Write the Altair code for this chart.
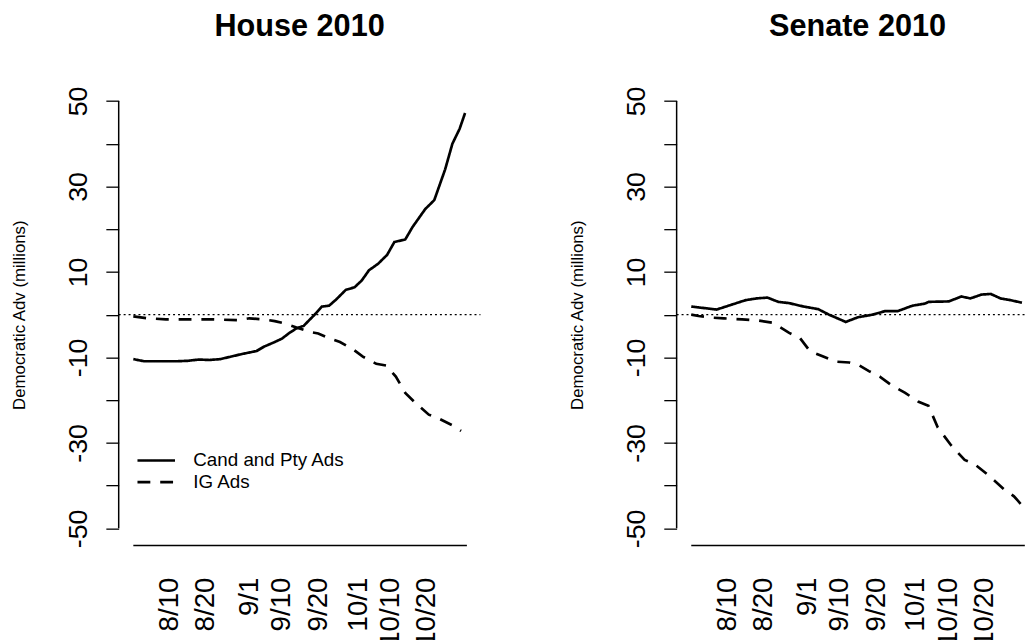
import altair as alt
import pandas as pd

# ---------------- data ----------------
# days counted from 2010-07-31
house_cand_day = [0, 3, 7, 12, 15, 18, 21, 24, 27, 30, 34, 36, 39, 41, 43, 45, 47, 50, 52, 54,
                  56, 58.6, 61, 63, 65, 67.5, 70, 72, 75, 77, 80.5, 83, 86, 88, 90, 91.5]
house_cand_val = [-10.4, -10.9, -10.9, -10.9, -10.8, -10.5, -10.6, -10.4, -9.8, -9.2, -8.5, -7.5,
                  -6.4, -5.6, -4.3, -3.2, -2.6, 0.0, 1.9, 2.1, 3.6, 5.8, 6.4, 8.0, 10.4, 11.9, 14.0,
                  17.0, 17.6, 20.5, 24.7, 26.8, 34.0, 40.0, 43.5, 47.2]

house_ig_day = [0, 4, 9, 16, 22, 29, 32, 36, 39, 42, 45, 49, 51, 54, 57, 60.6, 63.3, 67, 69.7,
                72.4, 75, 78, 81.5, 84, 88, 90.4]
house_ig_val = [-0.4, -0.85, -1.1, -1.1, -1.1, -1.3, -0.85, -1.1, -1.5, -2.1, -3.0, -4.1, -4.4,
                -5.5, -6.4, -8.1, -9.8, -11.5, -11.9, -14.5, -18.3, -20.8, -23.4, -24.2, -25.9,
                -27.2]

senate_cand_day = [0, 2, 6, 7, 11, 15, 18, 21, 24, 27, 31, 35, 38, 42.6, 46, 50, 53.5, 57, 61,
                   64.5, 65.5, 71, 74.5, 77, 80, 82.6, 85.3, 88, 91.2]
senate_cand_val = [1.9, 1.7, 1.3, 1.2, 2.3, 3.4, 3.8, 4.0, 3.0, 2.7, 1.9, 1.3, 0.0, -1.7, -0.6,
                   0.0, 0.85, 0.85, 2.1, 2.6, 3.0, 3.1, 4.25, 3.8, 4.7, 4.85, 3.8, 3.4, 2.8]

senate_ig_day = [0, 2, 6, 9, 14, 18, 22.5, 27, 30, 32.7, 36.4, 40, 43.6, 46.4, 49, 52, 55.4, 59,
                 62.7, 65.4, 68, 71.7, 75.4, 78, 81.7, 86.2, 89, 91.2]
senate_ig_val = [0.0, -0.3, -0.7, -0.85, -1.1, -1.3, -1.9, -4.25, -5.5, -8.5, -9.8, -11.0, -11.2,
                 -11.9, -13.2, -14.5, -16.6, -18.3, -20.4, -21.3, -26.4, -30.6, -34.0, -34.9,
                 -37.4, -40.8, -42.5, -44.6]

series_names = ["Cand and Pty Ads", "IG Ads"]
tick_dates = ["2010-08-10", "2010-08-20", "2010-09-01", "2010-09-10", "2010-09-20",
              "2010-10-01", "2010-10-10", "2010-10-20"]
y_ticks = [-50, -40, -30, -20, -10, 0, 10, 20, 30, 40, 50]
panel_titles = ["House 2010", "Senate 2010"]
y_title = "Democratic Adv (millions)"

# ---------------- helpers ----------------
START = pd.Timestamp("2010-07-31", tz="UTC")


def to_ms(days):
    return [int((START + pd.Timedelta(days=float(d))).value // 10**6) for d in days]


tick_ms = [int(pd.Timestamp(d, tz="UTC").value // 10**6) for d in tick_dates]

NARROW = "Liberation Sans Narrow, Liberation Sans, Arial"
SANS = "Liberation Sans, Arial"
PX_PER_DAY = 337.5 / 92.0
LEFT_PAD_DAYS = 14.8 / PX_PER_DAY
H = 467


def frame(cd, cv, gd, gv):
    return pd.concat([
        pd.DataFrame({"date": to_ms(cd), "adv": cv, "series": series_names[0]}),
        pd.DataFrame({"date": to_ms(gd), "adv": gv, "series": series_names[1]}),
    ], ignore_index=True)


def panel(df, title, width, legend, dx=0):
    x_dom = to_ms([-LEFT_PAD_DAYS, -LEFT_PAD_DAYS + width / PX_PER_DAY])

    def xe(field):
        return alt.X(field, scale=alt.Scale(type="utc", domain=x_dom, nice=False),
                     axis=alt.Axis(values=tick_ms,
                                   labelExpr="utcFormat(datum.value, '%-m/%-d')",
                                   labelAngle=270, labelAlign="right", labelBaseline="middle",
                                   labelPadding=32, domain=False, ticks=False, grid=False,
                                   labelFont=NARROW, labelFontSize=28, labelColor="black",
                                   labelOverlap=False, title=None))

    def ye(field):
        return alt.Y(field, scale=alt.Scale(domain=[-54, 54], nice=False, zero=False),
                     axis=alt.Axis(values=y_ticks,
                                   labelExpr="datum.value % 20 == 0 ? '' : '' + datum.value",
                                   domain=False, tickSize=13, tickColor="black", tickWidth=1.3,
                                   labelAngle=270, labelAlign="center", labelBaseline="bottom",
                                   labelPadding=14, labelFont=NARROW, labelFontSize=27,
                                   labelColor="black", labelOverlap=False, grid=False,
                                   title=y_title, titleFont=SANS, titleFontSize=17,
                                   titleFontWeight="normal", titleColor="black",
                                   titleAngle=270, titleAlign="center", titleBaseline="middle",
                                   titleX=-100, titleY=H / 2))

    lines = alt.Chart(df).mark_line(color="black", strokeWidth=2.7).encode(
        x=xe("date:T"), y=ye("adv:Q"),
        strokeDash=alt.StrokeDash("series:N",
                                  scale=alt.Scale(domain=series_names, range=[[1, 0], [13, 10]]),
                                  legend=legend),
    )
    zero = alt.Chart(pd.DataFrame({"z": [0]})).mark_rule(
        color="black", strokeWidth=1.2, strokeDash=[2, 3]).encode(
        y=ye("z:Q"), x=alt.value(0), x2=alt.value(width))
    base = alt.Chart(pd.DataFrame({"x0": to_ms([0]), "x1": to_ms([92]), "yb": [-54]})).mark_rule(
        color="black", strokeWidth=1.5).encode(x=xe("x0:T"), x2="x1:T", y=ye("yb:Q"))
    yline = alt.Chart(pd.DataFrame({"y0": [-50], "y1": [50]})).mark_rule(
        color="black", strokeWidth=1.5).encode(y=ye("y0:Q"), y2="y1:Q", x=alt.value(0))
    return alt.layer(zero, base, yline, lines).properties(
        width=width, height=H,
        title=alt.TitleParams(title, font=SANS, fontSize=31, fontWeight="bold", color="black",
                              anchor="middle", baseline="alphabetic", offset=17, dx=dx))


house = frame(house_cand_day, house_cand_val, house_ig_day, house_ig_val)
senate = frame(senate_cand_day, senate_cand_val, senate_ig_day, senate_ig_val)

leg = alt.Legend(title=None, orient="none", legendX=17.5, legendY=370, symbolType="stroke",
                 symbolSize=1444, symbolStrokeWidth=2.7, symbolStrokeColor="black",
                 labelFont=SANS, labelFontSize=19, labelColor="black", labelOffset=17,
                 clipHeight=22, rowPadding=0, padding=0)

left = panel(house, panel_titles[0], 366, leg)
right = panel(senate, panel_titles[1], 352, None, dx=7)

chart = alt.hconcat(left, right, spacing=198.5, bounds="flush").resolve_scale(
    x="independent", y="independent", strokeDash="independent"
).resolve_legend(strokeDash="independent").properties(
    padding={"left": 3, "top": 0, "right": 0, "bottom": 0}
).configure(background="white").configure_view(stroke=None)

chart.save("out.html", embed_options={"renderer": "svg", "actions": False})
